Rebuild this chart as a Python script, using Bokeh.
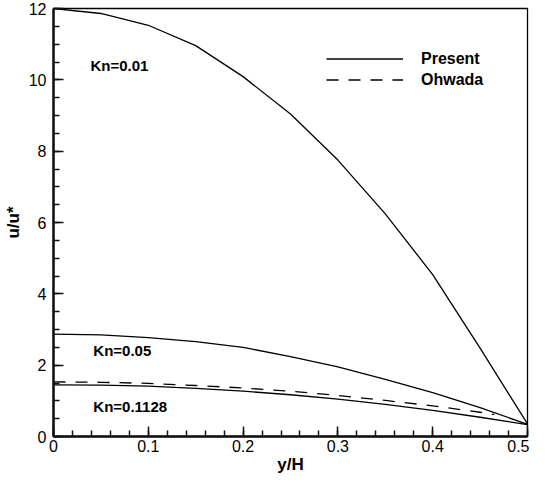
from bokeh.plotting import figure
from bokeh.models import Range1d, FixedTicker, Label, Legend, LegendItem
from bokeh.embed import file_html
from bokeh.resources import INLINE

# ---- data ----
y_over_H = [0.0, 0.05, 0.10, 0.15, 0.20, 0.25, 0.30, 0.35, 0.40, 0.45, 0.50]
u_kn001 = [12.0, 11.86, 11.53, 10.96, 10.09, 9.04, 7.75, 6.24, 4.54, 2.48, 0.35]
u_kn005 = [2.87, 2.85, 2.77, 2.66, 2.50, 2.24, 1.95, 1.60, 1.23, 0.81, 0.34]
u_kn01128 = [1.45, 1.44, 1.41, 1.35, 1.27, 1.17, 1.05, 0.90, 0.73, 0.54, 0.33]

y_ohwada = [0.0, 0.05, 0.10, 0.15, 0.20, 0.25, 0.30, 0.35, 0.40, 0.45, 0.465]
u_ohwada = [1.53, 1.52, 1.49, 1.43, 1.36, 1.27, 1.15, 1.01, 0.86, 0.68, 0.62]

x_ticks = [0.0, 0.1, 0.2, 0.3, 0.4, 0.5]
y_ticks = [0, 2, 4, 6, 8, 10, 12]
x_minor = [i * 0.02 for i in range(26)]
y_minor = [i * 0.5 for i in range(25)]

kn_labels = ["Kn=0.01", "Kn=0.05", "Kn=0.1128"]
kn_label_x = [0.039, 0.042, 0.042]
kn_label_y = [10.41, 2.41, 0.845]

FONT = "Liberation Sans"
W, H = 529, 476
B_LEFT, B_RIGHT, B_TOP, B_BOTTOM = 48, 2, 8, 40

p = figure(width=W, height=H, output_backend="svg", toolbar_location=None,
           x_range=Range1d(0, 0.5), y_range=Range1d(0, 12))
p.min_border_left = B_LEFT
p.min_border_right = B_RIGHT
p.min_border_top = B_TOP
p.min_border_bottom = B_BOTTOM
p.background_fill_color = "white"
p.border_fill_color = "white"
p.grid.visible = False
p.outline_line_color = "black"
p.outline_line_width = 1.3

for ax in (p.xaxis[0], p.yaxis[0]):
    ax.axis_line_color = "#111111"
    ax.axis_line_width = 2.5
    ax.major_tick_in = 10
    ax.major_tick_out = 0
    ax.minor_tick_in = 6
    ax.minor_tick_out = 0
    ax.major_tick_line_width = 1.5
    ax.minor_tick_line_width = 1.5
    ax.major_tick_line_color = "#111111"
    ax.minor_tick_line_color = "#111111"
    ax.major_label_text_font = FONT
    ax.major_label_text_font_size = "16px"
    ax.major_label_text_color = "black"
    ax.axis_label_text_font = FONT
    ax.axis_label_text_font_style = "bold"
    ax.axis_label_text_font_size = "17px"
    ax.axis_label_text_color = "black"

p.xaxis[0].ticker = FixedTicker(ticks=x_ticks, minor_ticks=x_minor)
p.yaxis[0].ticker = FixedTicker(ticks=y_ticks, minor_ticks=y_minor)
p.xaxis[0].major_label_overrides = {0: "0"}
p.xaxis[0].major_label_standoff = 3
p.xaxis[0].axis_label_standoff = 0
p.yaxis[0].major_label_standoff = 7
p.yaxis[0].axis_label_standoff = 3
p.xaxis[0].axis_label = "y/H"
p.yaxis[0].axis_label = "u/u*"

r1 = p.line(y_over_H, u_kn001, line_color="black", line_width=1.3)
r2 = p.line(y_over_H, u_kn005, line_color="black", line_width=1.3)
r3 = p.line(y_over_H, u_kn01128, line_color="black", line_width=1.3)
r4 = p.line(y_ohwada, u_ohwada, line_color="black", line_width=1.3, line_dash="12 10")

for t, x, y in zip(kn_labels, kn_label_x, kn_label_y):
    p.add_layout(Label(x=x, y=y, text=t, text_font=FONT, text_font_style="bold",
                       text_font_size="15px", text_baseline="middle", text_align="left",
                       text_color="black"))

frame_h = H - B_TOP - B_BOTTOM
legend = Legend(items=[LegendItem(label="Present", renderers=[r1]),
                       LegendItem(label="Ohwada", renderers=[r4])],
                location=(273, frame_h - 82), orientation="vertical")
legend.glyph_width = 77
legend.glyph_height = 21
legend.label_height = 21
legend.label_standoff = 18
legend.spacing = 0
legend.padding = 0
legend.margin = 0
legend.border_line_alpha = 0
legend.background_fill_alpha = 0
legend.label_text_font = FONT
legend.label_text_font_style = "bold"
legend.label_text_font_size = "16px"
legend.label_text_color = "black"
p.add_layout(legend)

open("out.html", "w").write(file_html(p, INLINE))
